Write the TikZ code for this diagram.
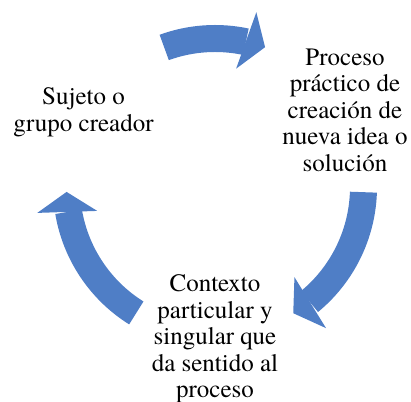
\documentclass[tikz,border=0pt]{standalone}
\usepackage{fontspec}
\setmainfont{texgyretermes}[Extension=.otf, UprightFont=*-regular, BoldFont=*-bold, ItalicFont=*-italic, BoldItalicFont=*-bolditalic]
\usetikzlibrary{calc}
\definecolor{arrowblue}{RGB}{79,126,198}
\newcommand\cyclearrow[3]{% name, tail angle, tip angle
  \pgfmathsetmacro\baseang{#3+7.7}
  \fill[arrowblue] ($(c)+(#2:162)$) arc[start angle=#2, end angle=\baseang, radius=162pt]
     -- ($(c)+(\baseang:135)$) arc[start angle=\baseang, end angle=#2, radius=135pt] -- cycle;
  \coordinate (#1tip) at ($(c)+(#3:148.5)$);
  \coordinate (#1base) at ($(#1tip)+(#3+90:20)$);
  \fill[arrowblue] (#1tip) -- ($(#1base)+(#3:30)$) -- ($(#1base)-(#3:30)$) -- cycle;
}
\begin{document}
\begin{tikzpicture}[x=1pt,y=1pt,
  lbl/.style={align=center, font=\fontsize{25}{26.5}\selectfont, inner sep=0pt}]
\useasboundingbox (0,0) rectangle (411,401);
\clip (0,0) rectangle (411,401);
\coordinate (c) at (215,214);
\cyclearrow{top}{110}{70.3}
\cyclearrow{right}{-2}{-58.2}
\cyclearrow{left}{238}{181.9}
\node[lbl] (sujeto) at (83.5,288.5) {Sujeto o\\grupo creador};
\node[lbl] (proceso) at (345,291) {Proceso\\práctico de\\creación de\\nueva idea o\\solución};
\node[lbl] (contexto) at (215,62) {Contexto\\particular y\\singular que\\da sentido al\\proceso};
\end{tikzpicture}
\end{document}
